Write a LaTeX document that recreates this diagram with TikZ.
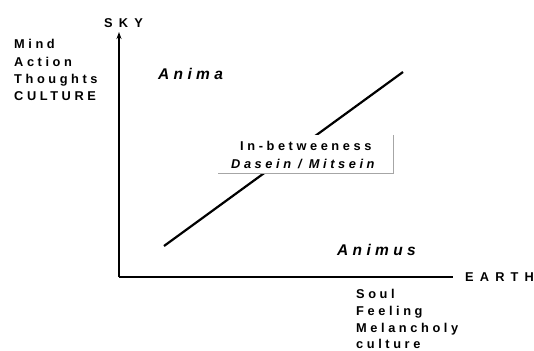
\documentclass[tikz,border=0pt]{standalone}
\usepackage{fontspec}
\setmainfont{Liberation Sans}
\newfontfamily\wide[LetterSpace=28,
  UprightFont={Liberation Sans Bold},
  ItalicFont={Liberation Sans Bold Italic}]{Liberation Sans}
\newfontfamily\wider[LetterSpace=48,
  UprightFont={Liberation Sans Bold}]{Liberation Sans}
\usetikzlibrary{arrows.meta}

\begin{document}
\begin{tikzpicture}[x=1bp, y=-1bp, >=Stealth,
  every node/.style={inner sep=0pt, anchor=base west},
  lbl/.style={font=\wide\fontsize{12.8bp}{15bp}\selectfont},
  axis/.style={font=\wider\fontsize{12.8bp}{15bp}\selectfont},
  slant/.style={font=\wide\itshape\fontsize{12.8bp}{15bp}\selectfont},
  big/.style={font=\wide\itshape\fontsize{15.5bp}{18bp}\selectfont}]
\useasboundingbox (0,0) rectangle (534,350);
\coordinate (o) at (119,277);
\coordinate (top) at (119,32);
\coordinate (right) at (453,277);
\coordinate (lo) at (164,246);
\coordinate (hi) at (403,72);
\draw[line width=1.2bp, -{Stealth[length=7bp,width=5bp]}] (o)--(top);
\draw[line width=1.2bp] (o)--(right);
\draw[line width=2.2bp] (lo)--(hi);
% the label box covers the diagonal
\node[fill=white, anchor=center, minimum width=175bp, minimum height=38bp] (box) at (305.5,154) {};
\draw[gray!70, line width=0.8bp] (box.north east)--(box.south east)--(box.south west);
\node[lbl] (inb) at (240,150.7) {In-betweeness};
\node[slant] (dasein) at (231,168.3) {Dasein / Mitsein};
\node[axis] (sky) at (104,27) {SKY};
\node[axis] (earth) at (465,281) {EARTH};
\node[big] (anima) at (158,79.3) {Anima};
\node[big] (animus) at (337,255) {Animus};
\node[lbl] (mind) at (14,48.3) {Mind};
\node[lbl] (action) at (14,66) {Action};
\node[lbl] (thoughts) at (14,83.6) {Thoughts};
\node[lbl] (culture) at (14,100.6) {CULTURE};
\node[lbl] (soul) at (356,298.3) {Soul};
\node[lbl] (feeling) at (356,315.6) {Feeling};
\node[lbl] (melancholy) at (356,332.8) {Melancholy};
\node[lbl] (culturelow) at (356,348.8) {culture};
\end{tikzpicture}
\end{document}
